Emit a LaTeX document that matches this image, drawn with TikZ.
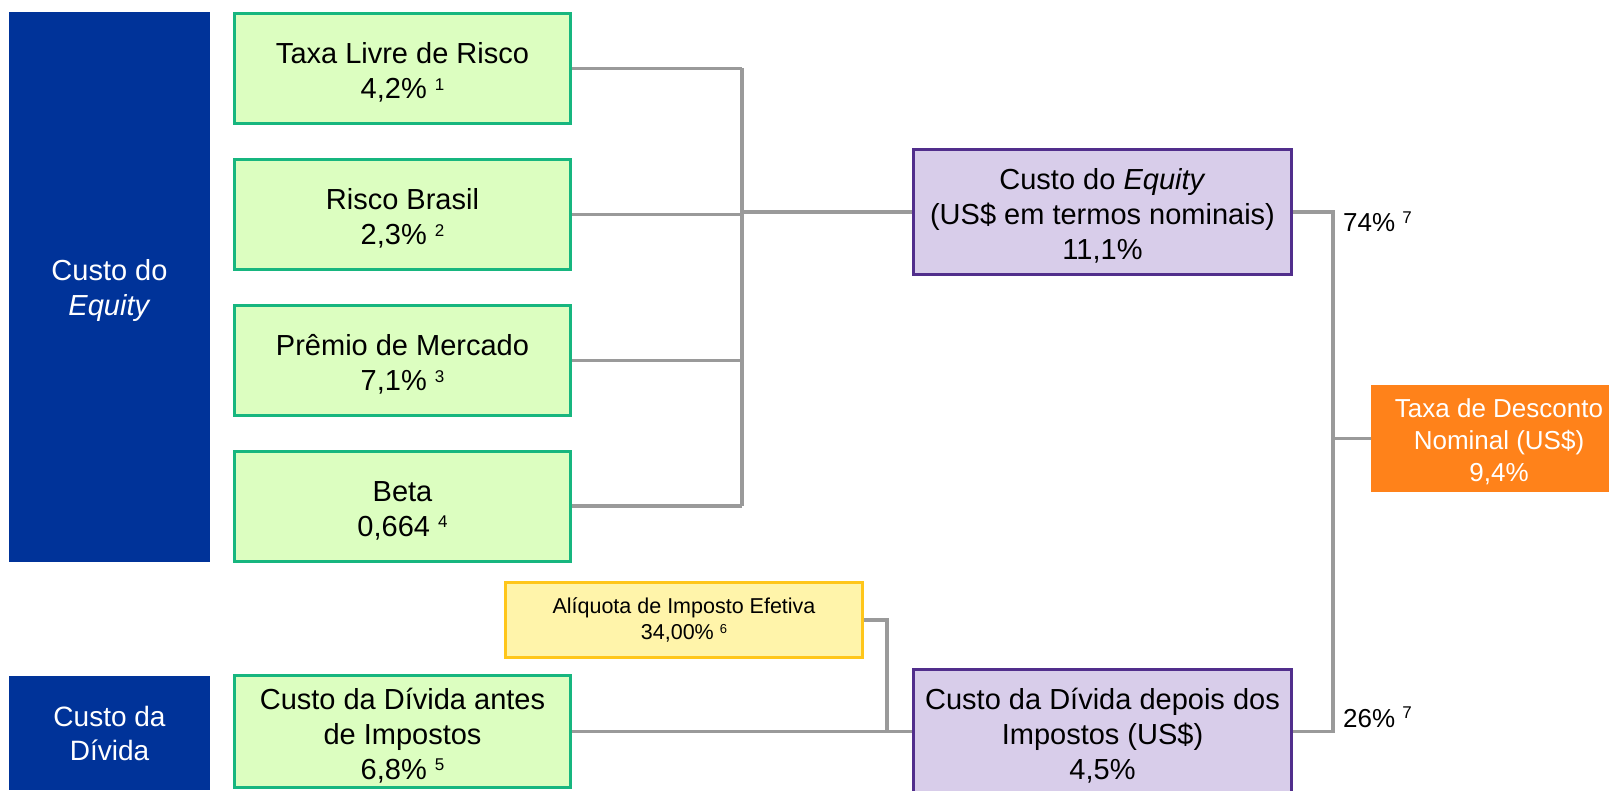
\documentclass[tikz,border=0pt]{standalone}
\usepackage{fontspec}
\setmainfont{Liberation Sans}
\usepackage{xcolor}
\usepackage{tikz}
\usetikzlibrary{positioning,calc}
\definecolor{wcblue}{HTML}{003399}
\definecolor{wcgreen}{HTML}{17B67F}
\definecolor{wcgreenl}{HTML}{DCFEC0}
\definecolor{wcpurple}{HTML}{512E8C}
\definecolor{wcpurplel}{HTML}{D8CDEA}
\definecolor{wcyellow}{HTML}{FFC61A}
\definecolor{wcyellowl}{HTML}{FFF4AA}
\definecolor{wcorange}{HTML}{FF821A}
\definecolor{wcgray}{HTML}{9A9A9A}
\newcommand{\nota}[1]{\raisebox{8.5pt}{\fontsize{17}{17}\selectfont #1}}
\newcommand{\tl}{\rule{0pt}{29pt}}

\begin{document}
\begin{tikzpicture}[x=1pt,y=1pt,font=\fontsize{29}{35}\selectfont]
  \tikzstyle{cat}=[fill=wcblue,text=white,minimum width=201pt,inner sep=0pt,align=center]
  \tikzstyle{inp}=[draw=wcgreen,fill=wcgreenl,line width=3pt,minimum width=336pt,minimum height=110pt,inner sep=0pt,align=center]
  \tikzstyle{res}=[draw=wcpurple,fill=wcpurplel,line width=3pt,minimum width=378pt,minimum height=125pt,inner sep=0pt,align=center]
  \tikzstyle{link}=[draw=wcgray,line width=3.8pt]
  \useasboundingbox (0,0) rectangle (1609,-791);
  % categories (left column)
  \node[cat,minimum height=550pt] (ce) at (109.5,-287) {\tl Custo do\\\textit{Equity}};
  \node[cat,minimum height=114pt,font=\fontsize{28}{34}\selectfont] (cd) at (109.5,-733) {Custo da\\Dívida};
  % inputs
  \node[inp] (g1) at (402.5,-68.5) {\tl Taxa Livre de Risco\\4,2\% \nota{1}};
  \node[inp] (g2) at (402.5,-214.5) {\tl Risco Brasil\\2,3\% \nota{2}};
  \node[inp] (g3) at (402.5,-360.5) {\tl Prêmio de Mercado\\7,1\% \nota{3}};
  \node[inp] (g4) at (402.5,-506) {\tl Beta\\0,664 \nota{4}};
  \node[inp,minimum height=112pt] (g5) at (402.5,-731.5) {\tl Custo da Dívida antes\\de Impostos\\6,8\% \nota{5}};
  \node[draw=wcyellow,fill=wcyellowl,line width=3pt,minimum width=357pt,minimum height=75pt,inner sep=0pt,align=center,font=\fontsize{21.5}{26.5}\selectfont] (al) at (684,-620) {Alíquota de Imposto Efetiva\\34,00\% \raisebox{6pt}{\fontsize{13}{13}\selectfont 6}};
  % results
  \node[res] (pe) at (1102.5,-212) {\tl Custo do \textit{Equity}\\(US\$ em termos nominais)\\11,1\%};
  \node[res] (pd) at (1102.5,-731.5) {\tl Custo da Dívida depois dos\\Impostos (US\$)\\4,5\%};
  \node[fill=wcorange,text=white,minimum width=256pt,minimum height=107pt,inner sep=0pt,align=center,font=\fontsize{26}{32}\selectfont] (tx) at (1499,-438.5) {\rule{0pt}{26pt}Taxa de Desconto\\Nominal (US\$)\\9,4\%};
  % weights
  \node[anchor=base west,inner sep=0pt,font=\fontsize{26}{30}\selectfont] (w1) at (1343,-232) {74\% \nota{7}};
  \node[anchor=base west,inner sep=0pt,font=\fontsize{26}{30}\selectfont] (w2) at (1343,-727) {26\% \nota{7}};
  % junctions
  \coordinate (jl) at (742,-212);
  \coordinate (jt) at (887,-731.5);
  \coordinate (jr) at (1333,-438.5);
  \foreach \n in {g1,g2,g3,g4}
    \draw[link] (\n.east) -- (\n.east -| jl);
  \draw[link] (g1.east -| jl) -- (g4.east -| jl);
  \draw[link] (jl) -- (pe.west);
  \draw[link] (g5.east) -- (pd.west);
  \draw[link] (al.east) -| (jt);
  \draw[link] (pe.east) -- (pe.east -| jr) -- (pd.east -| jr) -- (pd.east);
  \draw[link] (jr) -- (tx.west);
\end{tikzpicture}
\end{document}
